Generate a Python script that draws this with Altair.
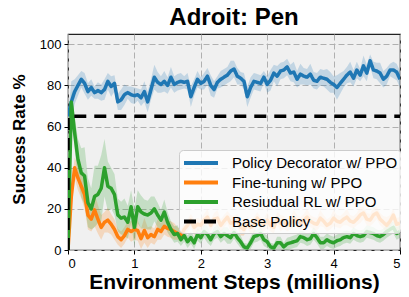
import altair as alt
import pandas as pd

steps = [round(i * 0.05, 2) for i in range(101)]

series_names = ["Policy Decorator w/ PPO", "Fine-tuning w/ PPO", "Resiudual RL w/ PPO", "Base Policy"]
series_colors = ["#1f77b4", "#ff7f0e", "#2ca02c", "#000000"]
series_dashes = [[1, 0], [1, 0], [1, 0], [12, 8]]

pd_mean = [65, 72, 77, 80, 83, 81, 77, 79, 76.5, 77.5,
           76.5, 78, 82, 79.5, 81, 72, 73, 75.5, 76.5, 75.5,
           75, 75.5, 74, 77, 72, 78, 84, 81.5, 80.5, 82,
           80, 84, 80.5, 81.5, 82, 81.5, 82, 74.5, 79, 83,
           81, 82, 84.5, 80, 78, 81.5, 83, 84, 85, 87,
           88, 84.5, 83.5, 82, 74.5, 79, 82, 81.5, 81, 84,
           80.5, 82.5, 86, 84.5, 87, 87.5, 89, 86, 86.5, 83,
           85.5, 84.5, 84, 85.5, 82.5, 82, 84, 83.5, 83, 81.5,
           80.5, 79, 81, 83, 85, 86.5, 83.5, 87.5, 85, 89.5,
           86, 92, 87.5, 87, 86, 83, 84.5, 87.5, 87.5, 86.5,
           83]
pd_std = [0, 10, 6, 5, 4, 5, 4, 4, 3, 4,
          4, 5, 4, 5, 4, 4, 5, 5, 3, 4,
          4, 3, 4, 5, 5, 5, 6, 5, 4, 5,
          4, 5, 4, 4, 4, 3, 4, 5, 4, 4,
          3, 4, 4, 5, 4, 3, 4, 4, 4, 5,
          4, 4, 3, 4, 5, 5, 4, 4, 4, 3,
          4, 5, 4, 5, 4, 4, 4, 4, 5, 4,
          5, 4, 4, 5, 4, 4, 4, 4, 5, 5,
          4, 6, 5, 4, 4, 5, 4, 4, 3, 5,
          4, 3, 4, 4, 5, 4, 4, 3, 4, 4,
          4]

ft_mean = [0, 26, 40, 35, 31, 27, 17, 15, 19.5, 15,
           11, 13.5, 14.5, 12.5, 10, 6.5, 5, 7, 10, 9,
           10, 9.5, 5.5, 9.5, 6, 7.5, 6.5, 10, 9, 11.5,
           10.5, 10, 9, 8, 7, 10, 12, 14.5, 11, 12.5,
           12, 14.5, 16, 12, 15, 15.5, 12, 14, 16, 13,
           13.5, 14.5, 11, 10, 13.5, 11, 12, 15.5, 13, 12,
           14.5, 12, 11, 15.5, 13, 13.5, 12, 13, 15.5, 14,
           13, 14.5, 16, 14, 13, 12.5, 15.5, 14, 12, 13,
           15.5, 14, 13.5, 15, 16, 14, 13.5, 15, 17, 18,
           15, 14.5, 17, 18, 15, 13.5, 12, 14, 17, 12.5,
           13]
ft_std = [0, 4, 5, 6, 6, 7, 7, 6, 8, 7,
          6, 5, 6, 5, 5, 4, 4, 4, 4, 5,
          5, 5, 5, 6, 5, 4, 4, 5, 4, 4,
          4, 4, 4, 3, 3, 3, 3, 3, 4, 3,
          3, 3, 4, 3, 3, 4, 3, 3, 3, 4,
          3, 3, 4, 3, 3, 3, 4, 3, 3, 3,
          4, 3, 3, 3, 4, 3, 3, 3, 4, 3,
          3, 3, 4, 3, 3, 3, 4, 3, 3, 3,
          4, 3, 3, 3, 4, 3, 3, 3, 4, 3,
          3, 3, 4, 3, 3, 3, 4, 3, 3, 3,
          3]

rr_mean = [0, 72, 57, 44, 37.5, 36, 23, 20, 26, 27,
           30, 40, 31, 30, 27, 17, 15.5, 16, 13.5, 21,
           11, 21, 18.5, 17.5, 17, 18, 20, 17, 14.5, 18.5,
           13.5, 10, 7.5, 8, 5, 7, 4, 6, 3.5, 7.5,
           6, 9, 7.5, 5, 8, 9, 6.5, 8, 7, 6,
           8.5, 6, 4, 1.5, 1, 3.5, 6.5, 7, 8, 5,
           4, 1.5, 1, 3.5, 3.5, 1.5, 3, 3.5, 4, 4.5,
           6.5, 6, 5, 5.5, 8, 6, 3.5, 3.5, 5, 4,
           3.5, 4.5, 5, 6, 6.5, 6, 8, 7, 6.5, 7,
           9, 8.5, 8, 7, 6.5, 7.5, 9, 10, 11, 8,
           9]
rr_std = [0, 5, 8, 10, 12, 14, 12, 10, 15, 14,
          16, 14, 12, 10, 10, 8, 8, 9, 8, 8,
          9, 8, 8, 7, 7, 8, 6, 6, 5, 6,
          5, 4, 4, 4, 3, 3, 3, 3, 3, 3,
          3, 3, 4, 3, 3, 3, 3, 3, 4, 3,
          3, 3, 3, 2, 2, 3, 3, 3, 3, 3,
          3, 2, 2, 3, 3, 2, 3, 3, 3, 3,
          3, 3, 3, 3, 3, 3, 3, 3, 3, 3,
          3, 3, 3, 3, 3, 3, 3, 3, 3, 3,
          3, 3, 3, 3, 3, 3, 3, 3, 3, 3,
          3]

base_x = [0, 0, 5]
base_y = [0, 65, 65]

font = "Liberation Sans"

rows = []
for name, means, stds in [(series_names[0], pd_mean, pd_std),
                          (series_names[1], ft_mean, ft_std),
                          (series_names[2], rr_mean, rr_std)]:
    for k, (s, m, d) in enumerate(zip(steps, means, stds)):
        rows.append({"series": name, "step": s, "mean": m,
                     "lo": max(0, m - d), "hi": m + d, "ord": k})
band_df = pd.DataFrame(rows)
for k, (s, v) in enumerate(zip(base_x, base_y)):
    rows.append({"series": series_names[3], "step": s, "mean": v,
                 "lo": v, "hi": v, "ord": k})
line_df = pd.DataFrame(rows)

x_enc = alt.X("step:Q", scale=alt.Scale(domain=[0, 5], nice=False),
              axis=alt.Axis(values=[0, 1, 2, 3, 4, 5], format="d",
                            title="Environment Steps (millions)",
                            titleFontSize=21, titleY=38, titleBaseline="alphabetic"))
y_axis = alt.Axis(values=[0, 20, 40, 60, 80, 100], title="Success Rate %",
                  titleFontSize=17, titleX=-44, titleY=105, titleBaseline="alphabetic")
y_scale = alt.Scale(domain=[0, 105], nice=False)

leg = alt.Legend(title=None, orient="none", legendX=111, legendY=116)

bands = alt.Chart(band_df).mark_area(opacity=0.22, clip=True).encode(
    x=x_enc,
    y=alt.Y("lo:Q", scale=y_scale, axis=y_axis),
    y2="hi:Q",
    fill=alt.Fill("series:N", scale=alt.Scale(domain=series_names[:3], range=series_colors[:3]), legend=None),
    detail="series:N",
)

lines = alt.Chart(line_df).mark_line(strokeWidth=3.5, strokeJoin="round", clip=True).encode(
    x=x_enc,
    y=alt.Y("mean:Q", scale=y_scale, axis=y_axis),
    color=alt.Color("series:N", scale=alt.Scale(domain=series_names, range=series_colors), legend=leg),
    strokeDash=alt.StrokeDash("series:N", scale=alt.Scale(domain=series_names, range=series_dashes), legend=leg),
    order=alt.Order("ord:Q"),
)

chart = alt.layer(bands, lines).properties(
    width=332, height=216,
    title=alt.TitleParams("Adroit: Pen", fontSize=24, fontWeight="bold", font=font,
                          color="black", anchor="middle", offset=4),
    autosize=alt.AutoSizeParams(type="none"),
    padding={"left": 60, "top": 26, "right": 1, "bottom": 47},
).configure_view(
    fill="#f0f0f0", stroke="#222222", strokeWidth=1.2,
).configure_axis(
    labelFont=font, labelFontSize=13, labelColor="black",
    tickColor="black", tickSize=4, labelPadding=3,
    domain=False, grid=True, gridDash=[6, 3], gridColor="#b0b0b0", gridWidth=1,
    titleFont=font, titleFontWeight="bold", titleColor="black",
).configure_legend(
    padding=3, fillColor="rgba(255,255,255,0.8)", strokeColor="#cccccc",
    cornerRadius=4, labelFont=font, labelFontSize=15, labelColor="black",
    symbolType="M-1,0H3.25", symbolSize=256, symbolStrokeWidth=4,
    labelOffset=30, rowPadding=1.5, labelLimit=400,
)

chart.save("out.html", embed_options={"renderer": "svg", "actions": False})
